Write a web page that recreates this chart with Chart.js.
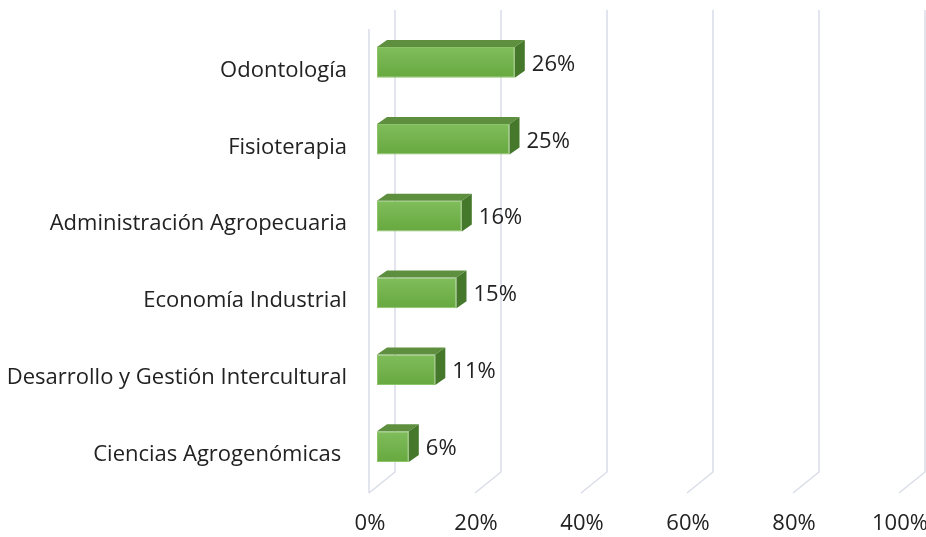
<!DOCTYPE html>
<html>
<head>
<meta charset="utf-8">
<script src="https://cdn.jsdelivr.net/npm/chart.js@4/dist/chart.umd.min.js"></script>
<style>
  html, body { margin: 0; padding: 0; background: #fff; }
  canvas { display: block; }
</style>
</head>
<body>
<canvas id="programChart" width="926" height="537"></canvas>
<script>
// Chart data
const programs = [
    'Odontología',
    'Fisioterapia',
    'Administración Agropecuaria',
    'Economía Industrial',
    'Desarrollo y Gestión Intercultural',
    'Ciencias Agrogenómicas '
];
const shares = [26, 25, 16, 15, 11, 6];
const axisTicks = [0, 20, 40, 60, 80, 100];

const FONT = '"Open Sans", "Liberation Sans", sans-serif';
const TEXT = '#222222';
const GRID = '#d9dde7';
const BAR_PCT = 0.40;
const DEPTH_X = 10, DEPTH_Y = 7;

// Fake 3D: back wall grid, floor lines, bar tops/sides, value labels
const bar3d = {
    id: 'bar3d',
    beforeDatasetsDraw(chart) {
        const { ctx, chartArea, scales } = chart;
        const x = scales.x;
        ctx.save();
        ctx.strokeStyle = GRID;
        ctx.lineWidth = 1.5;
        axisTicks.forEach(v => {
            const px = x.getPixelForValue(v);
            ctx.beginPath();
            ctx.moveTo(px + 18, 10);
            ctx.lineTo(px + 18, chartArea.bottom - 13);
            ctx.lineTo(px - 8, chartArea.bottom + 8);
            ctx.stroke();
        });
        // left wall front edge
        const p0 = x.getPixelForValue(0);
        ctx.beginPath();
        ctx.moveTo(p0 - 8, 29);
        ctx.lineTo(p0 - 8, chartArea.bottom + 8);
        ctx.stroke();
        ctx.restore();
    },
    afterDatasetsDraw(chart) {
        const { ctx } = chart;
        const meta = chart.getDatasetMeta(0);
        ctx.save();
        meta.data.forEach((bar, i) => {
            const left = bar.base, right = bar.x;
            const top = bar.y - bar.height / 2, bottom = bar.y + bar.height / 2;
            // top face
            ctx.fillStyle = '#5e8f3f';
            ctx.beginPath();
            ctx.moveTo(left, top);
            ctx.lineTo(right, top);
            ctx.lineTo(right + DEPTH_X, top - DEPTH_Y);
            ctx.lineTo(left + DEPTH_X, top - DEPTH_Y);
            ctx.closePath();
            ctx.fill();
            // side face
            ctx.fillStyle = '#45782b';
            ctx.beginPath();
            ctx.moveTo(right, top);
            ctx.lineTo(right + DEPTH_X, top - DEPTH_Y);
            ctx.lineTo(right + DEPTH_X, bottom - DEPTH_Y);
            ctx.lineTo(right, bottom);
            ctx.closePath();
            ctx.fill();
            // value label
            ctx.fillStyle = TEXT;
            ctx.font = '22px ' + FONT;
            ctx.textAlign = 'left';
            ctx.textBaseline = 'middle';
            ctx.fillText(shares[i] + '%', right + DEPTH_X + 7, bar.y + 2);
        });
        ctx.restore();
    }
};

function frontGradient(context) {
    const chart = context.chart;
    const y = chart.scales && chart.scales.y;
    if (!chart.chartArea || !y) return '#70ad47';
    const center = y.getPixelForValue(context.dataIndex);
    const h = Math.abs(y.getPixelForValue(1) - y.getPixelForValue(0)) * BAR_PCT;
    if (!Number.isFinite(center) || !Number.isFinite(h)) return '#70ad47';
    const g = chart.ctx.createLinearGradient(0, center - h / 2, 0, center + h / 2);
    g.addColorStop(0, '#80bd5c');
    g.addColorStop(1, '#67a83f');
    return g;
}

const ctx = document.getElementById('programChart');

new Chart(ctx, {
    type: 'bar',
    data: {
        labels: programs,
        datasets: [{
            data: shares,
            backgroundColor: frontGradient,
            borderColor: '#8cc46a',
            borderWidth: 1,
            borderSkipped: false,
            barPercentage: BAR_PCT,
            categoryPercentage: 1
        }]
    },
    options: {
        indexAxis: 'y',
        responsive: false,
        animation: false,
        layout: {
            padding: { left: 0, right: 19, top: 24, bottom: 0 }
        },
        plugins: {
            legend: { display: false },
            tooltip: { enabled: false }
        },
        scales: {
            x: {
                min: 0,
                max: 100,
                afterFit: scale => {
                    scale.height = 52;
                    scale.paddingLeft = 0;
                    scale.paddingRight = 0;
                },
                afterBuildTicks: scale => {
                    scale.ticks = axisTicks.map(v => ({ value: v }));
                },
                grid: { display: false, drawTicks: false },
                border: { display: false },
                ticks: {
                    padding: 26,
                    labelOffset: -7,
                    maxRotation: 0,
                    autoSkip: false,
                    color: TEXT,
                    font: { family: FONT, size: 22 },
                    callback: v => v + '%'
                }
            },
            y: {
                afterFit: scale => {
                    scale.width = 377;
                    scale.paddingTop = 0;
                    scale.paddingBottom = 0;
                },
                grid: { display: false, drawTicks: false },
                border: { display: false },
                ticks: {
                    padding: 30,
                    labelOffset: 8,
                    color: TEXT,
                    font: { family: FONT, size: 22 }
                }
            }
        }
    },
    plugins: [bar3d]
});
</script>
</body>
</html>
